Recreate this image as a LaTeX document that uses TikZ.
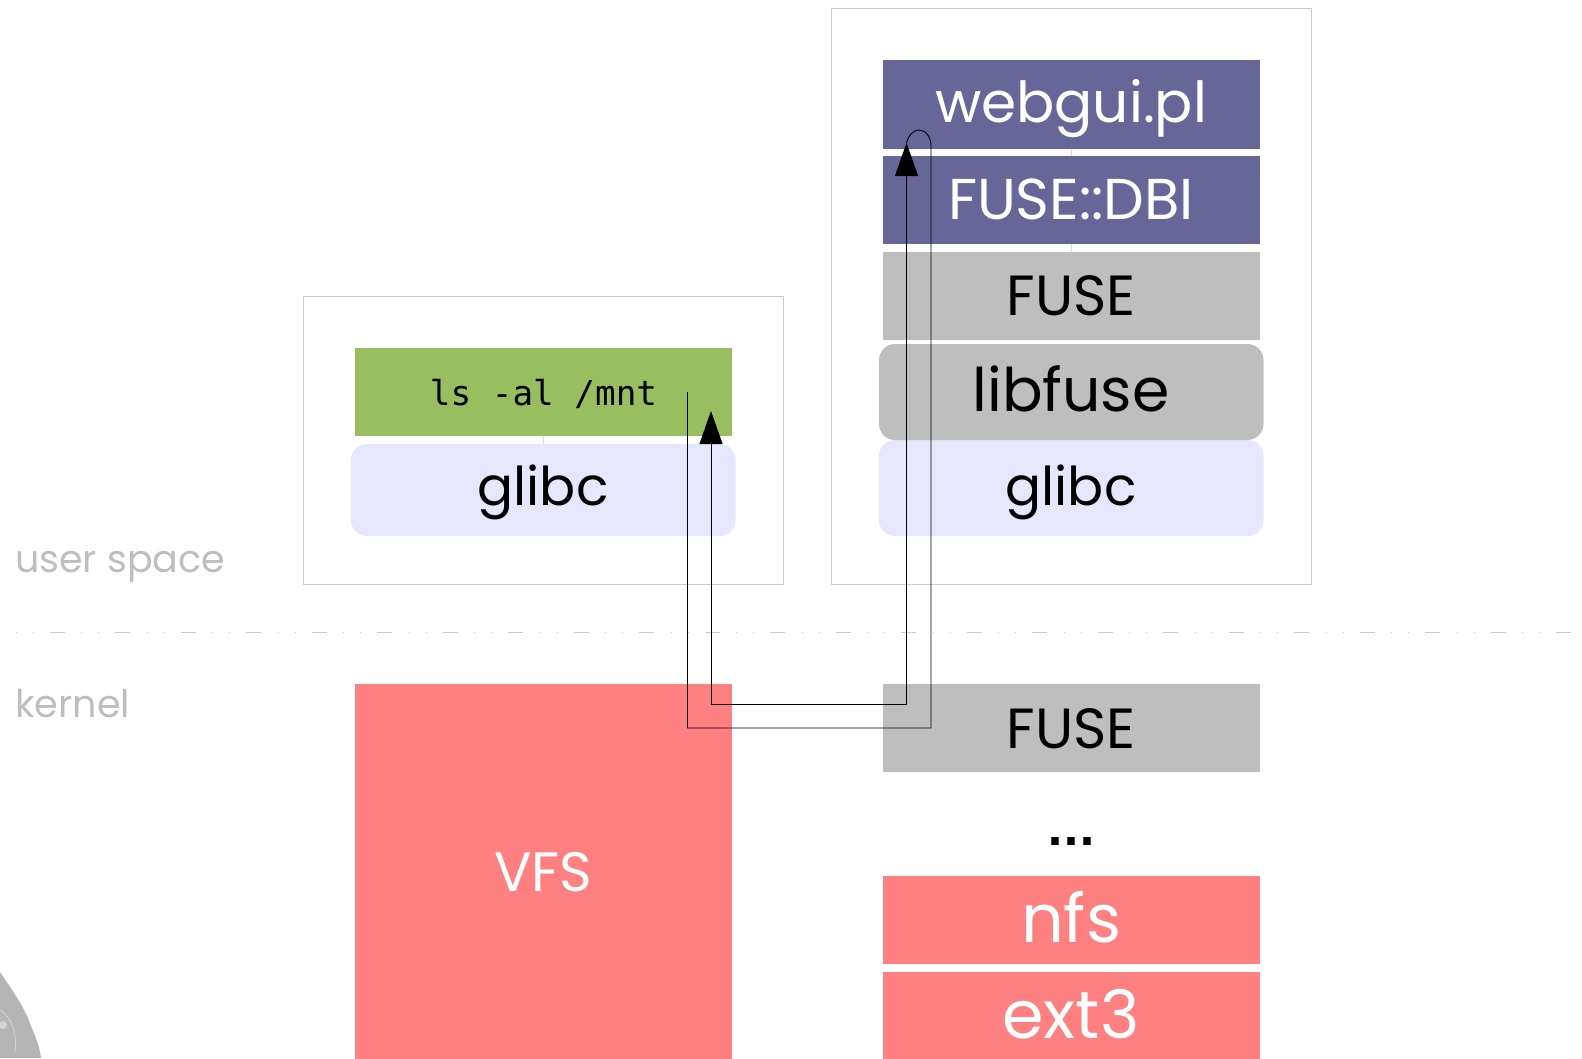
\documentclass[tikz,border=0pt]{standalone}
\usepackage{fontspec}
\usepackage{graphicx}
\setmainfont{Poppins}
\newfontfamily\monof{DejaVu Sans Mono}
\newfontfamily\dotf{DejaVu Sans}
\usetikzlibrary{arrows.meta}
\definecolor{purp}{HTML}{666699}
\definecolor{grn}{HTML}{97BF60}
\definecolor{lav}{HTML}{E6E6FC}
\definecolor{gry}{HTML}{BEBEBE}
\definecolor{rd}{HTML}{FF8080}
\definecolor{frame}{HTML}{CCCCCC}
\newcommand{\wtxt}[2]{\resizebox{#1pt}{!}{\strut #2}}
\tikzset{
  x=1pt,y=-1pt,
  layer/.style={font=\fontsize{54}{60}\selectfont,inner sep=0pt},
  proc/.style={draw=frame,fill=white,line width=1pt},
  side/.style={text=gry,font=\fontsize{36}{40}\selectfont,anchor=base west,inner sep=0pt},
  link/.style={black,line width=0.9pt,line join=miter},
  arr/.style={link,-{Triangle[length=33pt,width=23pt]}},
  faint/.style={draw=frame!70,line width=0.6pt}
}
\newcommand{\layerbox}[7]{% name,x1,y1,x2,y2,fill,corner
  \path[fill=#6,rounded corners=#7pt] (#2,#3) rectangle (#4,#5);
  \coordinate (#1) at ({(#2+#4)/2},{(#3+#5)/2});
}
\begin{document}
\begin{tikzpicture}
\useasboundingbox (0,0) rectangle (1582,1058);
\fill[white] (0,0) rectangle (1582,1058);
% penguin fragment
\fill[gry!95!black] (0,972) .. controls (12,990) and (24,1006) .. (31,1026) .. controls (36,1038) and (40,1048) .. (41,1058) -- (0,1058) -- cycle;
\draw[gry!70!white,line width=1pt] (0,1010) .. controls (12,1018) and (17,1032) .. (15,1052);
\fill[gry!70!white] (3,1025) circle (4);
% process frames
\draw[proc] (303,296) rectangle (783,584);
\draw[proc] (831,8) rectangle (1311,584);
% separator
\draw[frame,line width=1pt,dash pattern=on 1pt off 16.2pt on 1pt off 16.2pt on 15pt off 16.1pt] (15.5,632) -- (1573,632);
% layers
\layerbox{ls}{355}{348}{731.5}{436}{grn}{0}
\layerbox{glibcA}{351}{444}{735.5}{536}{lav}{16}
\layerbox{web}{883}{60}{1260}{149}{purp}{0}
\layerbox{dbi}{883}{156}{1260}{244}{purp}{0}
\layerbox{fuseU}{883}{252}{1260}{340}{gry}{0}
\layerbox{glibcB}{879}{440}{1263.5}{536}{lav}{16}
\layerbox{libfuse}{879}{344}{1263.5}{440}{gry}{16}
\layerbox{fuseK}{883}{684}{1260}{772}{gry}{0}
\layerbox{vfs}{355}{684}{731.5}{1060}{rd}{0}
\layerbox{nfs}{883}{876}{1260}{964}{rd}{0}
\layerbox{ext}{883}{972}{1260}{1060}{rd}{0}
\draw[faint] (543,436) -- (543,444);
\draw[faint] (1071,149) -- (1071,156);
\draw[faint] (1071,244) -- (1071,252);
% labels
\node[layer] (tLs) at (543.5,394) {\monof\fontsize{34.3}{40}\selectfont ls -al /mnt};
\node[layer] (tGa) at (543,494) {\wtxt{131}{glibc}};
\node[layer,text=white] (tWeb) at (1071,110) {\wtxt{272}{webgui.pl}};
\node[layer,text=white] (tDbi) at (1071,207) {\wtxt{246}{FUSE::DBI}};
\node[layer] (tF1) at (1071,303) {\wtxt{129}{FUSE}};
\node[layer] (tLib) at (1071,398) {\wtxt{197}{libfuse}};
\node[layer] (tGb) at (1071,494) {\wtxt{131}{glibc}};
\node[layer] (tF2) at (1071,736) {\wtxt{129}{FUSE}};
\node[layer] (tDots) at (1071,836) {\wtxt{48}{\dotf\bfseries ...}};
\node[layer,text=white] (tVfs) at (543,879) {\wtxt{98}{VFS}};
\node[layer,text=white] (tNfs) at (1071,928) {\wtxt{100}{nfs}};
\node[layer,text=white] (tExt) at (1071,1024) {\wtxt{137}{ext3}};
\node[side] (tUser) at (15,572) {\wtxt{210}{user space}};
\node[side] (tKern) at (15,717) {\wtxt{115}{kernel}};
% connectors
\coordinate (a0) at (687.5,392);
\coordinate (a1) at (687.5,728);
\coordinate (a2) at (931,728);
\coordinate (a3) at (931,146);
\coordinate (a4) at (906.5,143);
\coordinate (b1) at (906.5,704);
\coordinate (b2) at (711,704);
\coordinate (b3) at (711,411);
\draw[link] (a0) -- (a1) -- (a2) -- (a3) .. controls (931,136) and (925,130) .. (919,130) .. controls (913,130) and (908,136) .. (a4);
\draw[arr] (b1) -- (a4);
\draw[link] (b1) -- (b2);
\draw[arr] (b2) -- (b3);
\end{tikzpicture}
\end{document}
